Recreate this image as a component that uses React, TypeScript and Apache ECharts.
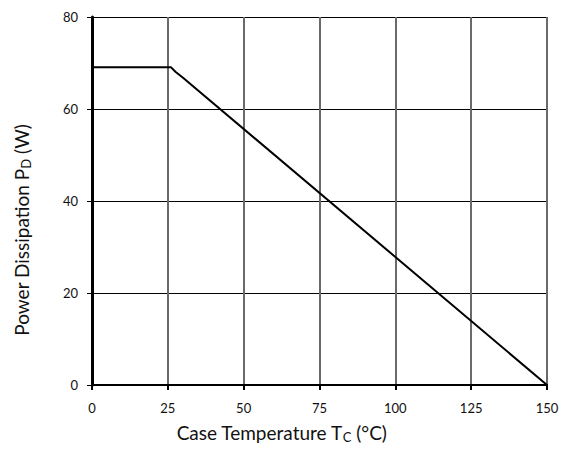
import React, { useEffect, useRef } from "react";
import * as echarts from "echarts";

const temps: number[] = [0, 26, 27.5, 30, 150];
const power: number[] = [69.1, 69.1, 68.1, 66.8, 0];
const xTicks: number[] = [0, 25, 50, 75, 100, 125, 150];
const yTicks: number[] = [0, 20, 40, 60, 80];

export default function App() {
  const ref = useRef<HTMLDivElement>(null);
  useEffect(() => {
    if (!ref.current) return;
    const chart = echarts.init(ref.current, undefined, { renderer: "svg" });
    const font = "Lato, 'Open Sans', sans-serif";
    chart.setOption({
      animation: false,
      backgroundColor: "#fff",
      grid: { left: 92, right: 21, top: 17, bottom: 67 },
      xAxis: {
        type: "value",
        min: xTicks[0],
        max: xTicks[xTicks.length - 1],
        interval: 25,
        name: "{a|Case Temperature T}{s|C}{a| (°C)}",
        nameLocation: "middle",
        nameGap: 37,
        nameTextStyle: {
          padding: [0, 76, 0, 0],
          rich: {
            a: { fontSize: 19, color: "#111", fontFamily: font },
            s: { fontSize: 13, color: "#111", fontFamily: font, padding: [8, 0, 0, 0] },
          },
        },
        axisLine: { lineStyle: { color: "#000", width: 2 } },
        axisTick: { show: true, inside: false, length: 5, lineStyle: { color: "#000", width: 2 } },
        axisLabel: { fontSize: 13, color: "#111", fontFamily: font, margin: 16 },
        splitLine: { show: true, lineStyle: { color: "#6a6a6a", width: 2 } },
      },
      yAxis: {
        type: "value",
        min: yTicks[0],
        max: yTicks[yTicks.length - 1],
        interval: 20,
        name: "{a|Power Dissipation P}{s|D}{a| (W)}",
        nameLocation: "middle",
        nameGap: 60,
        nameRotate: 90,
        nameTextStyle: {
          padding: [0, 58, 0, 0],
          rich: {
            a: { fontSize: 19, color: "#111", fontFamily: font },
            s: { fontSize: 13, color: "#111", fontFamily: font, padding: [8, 0, 0, 0] },
          },
        },
        axisLine: { show: true, lineStyle: { color: "#000", width: 3 } },
        axisTick: { show: true, inside: false, length: 5, lineStyle: { color: "#000", width: 1 } },
        axisLabel: { fontSize: 13, color: "#111", fontFamily: font, margin: 14 },
        splitLine: { show: true, lineStyle: { color: "#000", width: 1 } },
      },
      series: [
        {
          type: "line",
          data: temps.map((t, i) => [t, power[i]]),
          showSymbol: false,
          lineStyle: { color: "#000", width: 2 },
        },
      ],
    });
    return () => chart.dispose();
  }, []);
  return (
    <div
      ref={ref}
      style={{ position: "absolute", left: 0, top: 0, width: 568, height: 452, overflow: "hidden" }}
    />
  );
}
